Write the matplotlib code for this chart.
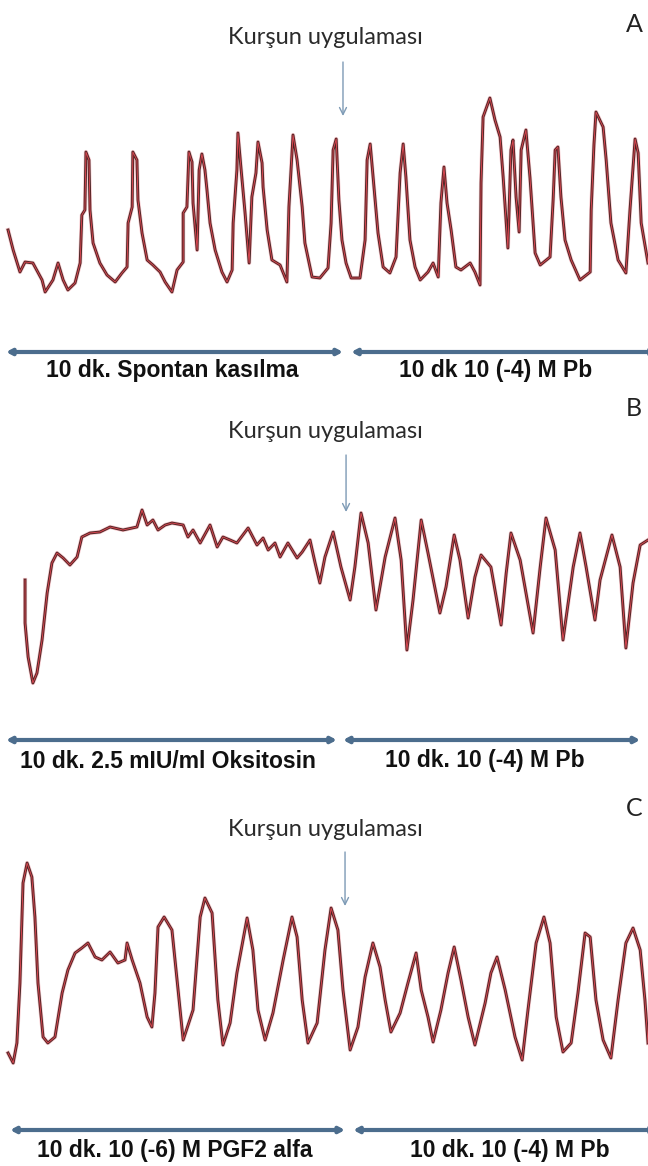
import matplotlib
matplotlib.use("Agg")
import matplotlib.pyplot as plt

# Panel A - spontaneous contractions, then 10(-4) M Pb  (time in min, tension in arbitrary units)
time_a = [0.09, 0.24, 0.44, 0.59, 0.82, 1.09, 1.18, 1.41, 1.56, 1.71, 1.85, 2.06, 2.21, 2.26, 2.35,
          2.38, 2.47, 2.50, 2.59, 2.79, 3.00, 3.24, 3.44, 3.59, 3.62, 3.74, 3.76, 3.88, 3.91, 4.03,
          4.18, 4.35, 4.56, 4.71, 4.91, 5.06, 5.24, 5.24, 5.35, 5.41, 5.50, 5.53, 5.65, 5.71, 5.79,
          5.88, 5.94, 6.03, 6.18, 6.38, 6.53, 6.68, 6.71, 6.82, 6.85, 6.94, 7.06, 7.18, 7.26, 7.38,
          7.44, 7.56, 7.59, 7.71, 7.85, 8.09, 8.29, 8.35, 8.47, 8.59, 8.74, 8.82, 9.03, 9.26, 9.50,
          9.59, 9.65, 9.74, 9.82, 9.91, 10.03, 10.18, 10.44, 10.59, 10.65, 10.74, 10.85, 10.97, 11.12,
          11.32, 11.50, 11.62, 11.71, 11.79, 11.91, 12.06, 12.21, 12.44, 12.59, 12.74, 12.82, 12.91,
          13.00, 13.12, 13.26, 13.41, 13.68, 13.82, 13.97, 14.00, 14.06, 14.26, 14.41, 14.56, 14.65,
          14.74, 14.79, 14.88, 14.94, 15.03, 15.12, 15.18, 15.32, 15.44, 15.59, 15.74, 16.03, 16.12,
          16.18, 16.26, 16.35, 16.47, 16.65, 16.91, 17.21, 17.24, 17.32, 17.38, 17.59, 17.68, 17.82,
          18.03, 18.26, 18.38, 18.53, 18.62, 18.71, 18.91]
tension_a = [7.0, 5.0, 2.8, 3.8, 3.7, 2.0, 0.8, 2.0, 3.7, 2.0, 1.0, 1.7, 3.7, 8.5, 9.0,
             14.8, 14.0, 9.0, 5.7, 3.7, 2.5, 1.8, 2.7, 3.3, 7.7, 9.3, 14.8, 14.0, 10.0, 6.7,
             4.0, 3.5, 2.8, 1.8, 0.8, 3.0, 3.8, 8.7, 9.3, 14.8, 13.8, 9.7, 5.0, 13.0, 14.6,
             13.0, 11.0, 7.7, 5.0, 2.8, 1.8, 3.0, 7.7, 13.0, 16.7, 13.2, 8.7, 3.7, 10.3, 12.7,
             15.8, 13.7, 11.3, 7.0, 4.0, 3.5, 1.8, 9.3, 16.5, 14.0, 9.3, 5.7, 2.3, 2.2, 3.2,
             7.7, 15.0, 16.1, 10.0, 6.0, 3.7, 2.2, 2.2, 6.0, 14.0, 15.6, 11.3, 6.7, 3.3,
             2.7, 4.3, 12.7, 15.6, 12.3, 6.0, 3.3, 2.0, 2.8, 3.7, 2.3, 9.7, 13.3,
             9.7, 7.0, 3.3, 3.0, 3.7, 2.8, 1.5, 11.7, 18.3, 20.2, 18.0, 16.3, 12.3,
             7.7, 5.2, 15.0, 16.0, 10.3, 6.8, 15.0, 17.0, 12.2, 4.7, 3.5, 4.3, 10.0,
             15.0, 15.3, 10.3, 6.0, 4.0, 2.0, 2.8, 9.0, 15.5, 18.8, 17.3, 14.0, 7.7,
             4.0, 2.7, 9.0, 16.1, 14.7, 7.7, 3.7]

# Panel B - oxytocin, then 10(-4) M Pb
time_b = [0.59, 0.59, 0.68, 0.82, 0.94, 1.09, 1.24, 1.38, 1.53, 1.71, 1.91, 2.12, 2.26, 2.50, 2.79,
          3.09, 3.47, 3.88, 4.03, 4.18, 4.35, 4.50, 4.71, 4.91, 5.24, 5.38, 5.53, 5.74, 6.03, 6.24,
          6.41, 6.62, 6.82, 7.15, 7.41, 7.59, 7.74, 7.94, 8.09, 8.32, 8.59, 8.74, 8.97, 9.12, 9.26,
          9.41, 9.65, 9.88, 10.15, 10.29, 10.47, 10.68, 10.91, 11.18, 11.47, 11.65, 11.82, 12.00,
          12.24, 12.44, 12.79, 12.97, 13.21, 13.38, 13.62, 13.82, 14.00, 14.29, 14.59, 14.74, 14.88,
          15.15, 15.53, 15.74, 15.91, 16.18, 16.41, 16.71, 16.91, 17.09, 17.35, 17.50, 17.85, 18.09,
          18.26, 18.47, 18.68, 18.91]
tension_b = [12.0, 7.7, 4.3, 1.7, 2.7, 6.0, 10.7, 13.7, 14.7, 14.2, 13.5, 14.3, 16.3, 16.7, 16.8,
             17.3, 17.0, 17.3, 19.0, 17.5, 18.0, 17.0, 17.5, 17.7, 17.5, 16.3, 17.0, 15.7, 17.5, 15.3,
             16.3, 16.0, 15.7, 17.2, 15.5, 16.2, 15.0, 15.7, 14.3, 15.7, 14.2, 14.8, 16.0, 13.7, 11.7,
             14.3, 16.8, 13.3, 10.0, 13.3, 18.7, 15.7, 9.0, 14.3, 18.2, 14.0, 5.0, 10.0,
             18.0, 14.7, 8.7, 11.3, 16.5, 14.0, 8.2, 12.3, 14.5, 13.3, 7.5, 12.7, 16.7,
             14.0, 6.7, 13.3, 18.2, 15.0, 6.0, 13.3, 16.7, 13.3, 8.0, 12.0, 16.5, 13.3,
             5.2, 11.7, 15.5, 16.0]

# Panel C - PGF2 alfa, then 10(-4) M Pb
time_c = [0.09, 0.24, 0.35, 0.44, 0.53, 0.65, 0.79, 0.88, 0.97, 1.12, 1.26, 1.47, 1.68, 1.85, 2.06,
          2.26, 2.44, 2.65, 2.85, 3.09, 3.32, 3.53, 3.59, 3.74, 3.97, 4.18, 4.32, 4.41, 4.50, 4.68,
          4.91, 5.09, 5.24, 5.53, 5.74, 5.88, 6.09, 6.26, 6.41, 6.62, 6.82, 7.12, 7.29, 7.44, 7.65,
          7.88, 8.18, 8.44, 8.59, 8.74, 8.91, 9.18, 9.41, 9.59, 9.79, 9.94, 10.15, 10.38, 10.59,
          10.82, 11.03, 11.18, 11.35, 11.62, 11.85, 12.09, 12.24, 12.44, 12.59, 12.82, 13.03, 13.21,
          13.41, 13.62, 13.82, 14.12, 14.29, 14.47, 14.71, 15.00, 15.21, 15.38, 15.62, 15.85, 16.03,
          16.21, 16.41, 16.65, 16.85, 17.06, 17.21, 17.38, 17.59, 17.82, 18.03, 18.26, 18.47, 18.68,
          18.82, 18.91]
tension_c = [1.7, 0.7, 2.7, 8.7, 18.7, 20.7, 19.3, 15.3, 8.7, 3.3, 2.7, 3.3, 7.7, 10.0, 11.7,
             12.2, 12.7, 11.3, 11.0, 11.8, 10.7, 11.0, 12.7, 11.0, 8.7, 5.3, 4.3, 7.7, 14.3, 15.3,
             14.0, 8.0, 3.0, 6.0, 15.3, 17.2, 15.7, 7.0, 2.5, 4.7, 9.7, 15.2, 12.0, 6.0, 3.0,
             5.7, 11.0, 15.3, 13.3, 7.0, 2.7, 4.7, 12.0, 16.2, 14.0, 8.0, 2.0, 4.3, 9.3,
             12.7, 10.3, 7.0, 3.8, 5.7, 8.7, 11.7, 8.0, 5.3, 2.8, 6.0, 9.7, 12.3,
             9.0, 5.3, 2.5, 6.7, 9.7, 11.3, 8.0, 3.3, 1.0, 6.0, 12.7, 15.3, 12.7,
             5.3, 1.8, 2.7, 7.7, 13.7, 13.3, 7.0, 3.0, 1.2, 7.0, 12.7, 14.2, 12.0,
             7.0, 2.7]

panel_letters = ["A", "B", "C"]
left_labels = ["10 dk. Spontan kasılma", "10 dk. 2.5 mIU/ml Oksitosin", "10 dk. 10 (-6) M PGF2 alfa"]
right_labels = ["10 dk 10 (-4) M Pb", "10 dk. 10 (-4) M Pb", "10 dk. 10 (-4) M Pb"]
arrow_text = "Kurşun uygulaması"

# layout per panel: axes rect, ylim, bar spans, y of bar/labels/arrow/title/letter
panels = [
    dict(t=time_a, v=tension_a, rect=[0, 776/1166, 1, 390/1166], ylim=(-9, 30),
         bars=[(0.03, 9.94), (10.18, 19.2)], bar_y=-5.2, lab_y=-7.1, lab_x=(4.91, 14.44),
         arr_x=9.94, arr=(23.8, 18.4), title_y=26.2, letter_y=27.5),
    dict(t=time_b, v=tension_b, rect=[0, 386/1166, 1, 390/1166], ylim=(-8, 31),
         bars=[(0.03, 9.76), (9.94, 18.68)], bar_y=-4.0, lab_y=-6.1, lab_x=(4.79, 14.12),
         arr_x=10.03, arr=(24.5, 18.8), title_y=26.8, letter_y=29.2),
    dict(t=time_c, v=tension_c, rect=[0, 0, 1, 386/1166], ylim=(-9.6, 29),
         bars=[(0.15, 10.0), (10.24, 19.2)], bar_y=-6.0, lab_y=-8.1, lab_x=(5.0, 14.85),
         arr_x=10.0, arr=(21.8, 16.4), title_y=24.0, letter_y=26.2),
]

fig = plt.figure(figsize=(6.48, 11.66), dpi=100)
fig.patch.set_facecolor("white")

for i, p in enumerate(panels):
    ax = fig.add_axes(p["rect"])
    ax.set_xlim(-0.147, 18.91)
    ax.set_ylim(*p["ylim"])
    ax.axis("off")

    # trace: pink fringe, dark outline, red centre (scanned recorder look)
    ax.plot(p["t"], p["v"], color="#f2a0a8", lw=3.0, alpha=0.6, solid_joinstyle="round")
    ax.plot(p["t"], p["v"], color="#4a2424", lw=2.0, solid_joinstyle="round")
    ax.plot(p["t"], p["v"], color="#d8454f", lw=0.7, solid_joinstyle="round")

    # phase bars
    for (s, e), lx, lab in zip(p["bars"], p["lab_x"], [left_labels[i], right_labels[i]]):
        ax.annotate("", xy=(e, p["bar_y"]), xytext=(s, p["bar_y"]),
                    arrowprops=dict(arrowstyle="<|-|>,head_length=0.3,head_width=0.16",
                                    color="#4c6d8d", lw=3, shrinkA=0, shrinkB=0),
                    annotation_clip=False)
        ax.text(lx, p["lab_y"], lab, ha="center", va="center", fontsize=16.5,
                fontweight="bold", family="Liberation Sans", color="#111111")

    # lead application marker
    ax.annotate("", xy=(p["arr_x"], p["arr"][1]), xytext=(p["arr_x"], p["arr"][0]),
                arrowprops=dict(arrowstyle="->,head_length=0.5,head_width=0.25",
                                color="#7d9ab5", lw=1.0, shrinkA=0, shrinkB=0))
    ax.text(9.41, p["title_y"], arrow_text, ha="center", va="center", fontsize=17,
            family="Lato", color="#2b2b2b")
    ax.text(18.5, p["letter_y"], panel_letters[i], ha="center", va="center", fontsize=18,
            family="Lato", color="#222222")

fig.savefig("out.png", dpi=100, facecolor="white")
